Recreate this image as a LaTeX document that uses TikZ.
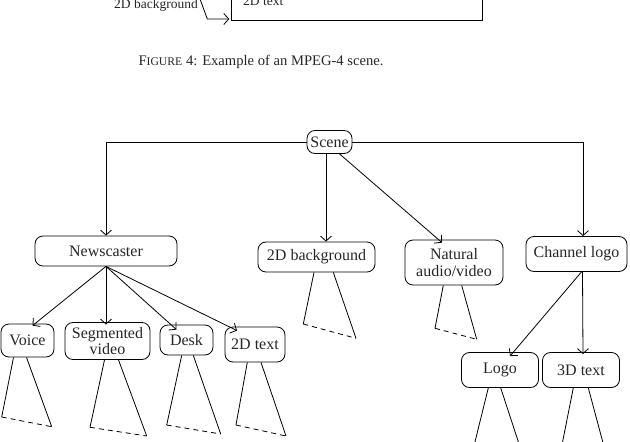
\documentclass[tikz,border=0pt]{standalone}
\usepackage{fontspec}
\setmainfont{Liberation Serif}
\usetikzlibrary{arrows.meta,calc}
\tikzset{
  box/.style={draw, rounded corners=8pt, align=center, inner sep=0pt, line width=0.8pt,
    font=\fontsize{16}{16.5}\selectfont, text=black!85},
  arr/.style={line width=0.8pt, -{Straight Barb[length=5pt,width=11pt,line width=0.8pt]}},
  ln/.style={line width=0.8pt},
  dsh/.style={line width=0.8pt, dash pattern=on 5pt off 4pt},
  lbl/.style={font=\fontsize{13.5}{15}\selectfont, text=black!85, inner sep=0pt}
}
\begin{document}
\begin{tikzpicture}[x=1pt,y=-1pt]
\useasboundingbox (0,0) rectangle (630,442);
\clip (0,0) rectangle (630,442);

% fragment of previous figure
\node[lbl, anchor=base east] (bglab) at (198,8) {2D background};
\node[lbl, anchor=base west] (txtlab) at (243,5) {2D text};
\draw[line width=1pt] (231.7,-10) rectangle (482.7,20);
\coordinate (fa) at (200,-1);
\coordinate (fb) at (207.3,19);
\coordinate (fc) at (229.3,19);
\draw[arr] (fa) -- (fb) -- (fc);

% caption
\node[lbl, font=\fontsize{14.6}{16}\selectfont] (cap) at (261,62)
  {F{\fontsize{11.7}{14}\selectfont IGURE} 4: Example of an MPEG-4 scene.};

% nodes
\node[box, minimum width=45pt, minimum height=23pt] (scene) at (329.5,142) {Scene};
\node[box, minimum width=142pt, minimum height=30pt] (news) at (106,251) {Newscaster};
\node[box, minimum width=117pt, minimum height=30pt] (bg) at (316.5,257) {2D background};
\node[box, minimum width=98pt, minimum height=45pt] (nat) at (454,262.5) {Natural\\audio/video};
\node[box, minimum width=101pt, minimum height=35pt] (chan) at (576.5,254) {Channel logo};
\node[box, minimum width=53pt, minimum height=33pt] (voice) at (27.5,340.5) {Voice};
\node[box, minimum width=85pt, minimum height=37pt] (seg) at (107.5,341) {Segmented\\video};
\node[box, minimum width=53pt, minimum height=30pt] (desk) at (186.5,340) {Desk};
\node[box, minimum width=60pt, minimum height=35pt] (t2d) at (255,344.5) {2D text};
\node[box, minimum width=77pt, minimum height=35pt] (logo) at (500,370) {Logo};
\node[box, minimum width=77pt, minimum height=35pt] (t3d) at (581,370) {3D text};

% connectors
\draw[arr] (scene.west) -| (news.north);
\draw[arr] (scene.east) -| ([xshift=6.5pt]chan.north);
\draw[arr] ([xshift=-3.5pt]scene.south) -- ([xshift=9.5pt]bg.north);
\draw[arr] ([xshift=10pt]scene.south) -- ([xshift=-12pt,yshift=-3pt]nat.north);

\draw[arr] (news.south) -- ([xshift=5pt,yshift=-2pt]voice.north);
\draw[arr] (news.south) -- ([xshift=-1.5pt,yshift=-2.5pt]seg.north);
\draw[arr] (news.south) -- ([xshift=-10pt,yshift=-5pt]desk.north);
\draw[arr] (news.south) -- ([xshift=-18pt,yshift=-4pt]t2d.north);

\draw[arr] ([xshift=5pt]chan.south) -- ([xshift=10pt,yshift=-4pt]logo.north);
\draw[arr] ([xshift=6pt]chan.south) -- ([xshift=2pt,yshift=-2pt]t3d.north);

% subtrees
\coordinate (voiceL) at (1.7,417);   \coordinate (voiceR) at (51.7,426.7);
\draw[ln] ([xshift=-14pt]voice.south) -- (voiceL);
\draw[ln] ([xshift=-1pt]voice.south) -- (voiceR);
\draw[dsh] (voiceL) -- (voiceR);

\coordinate (segL) at (90,427.3);    \coordinate (segR) at (146.7,436);
\draw[ln] ([xshift=-3pt]seg.south) -- (segL);
\draw[ln] ([xshift=11pt]seg.south) -- (segR);
\draw[dsh] (segL) -- (segR);

\coordinate (deskL) at (166.7,425);  \coordinate (deskR) at (220.7,434);
\draw[ln] ([xshift=-4.8pt]desk.south) -- (deskL);
\draw[ln] ([xshift=6.8pt]desk.south) -- (deskR);
\draw[dsh] (deskL) -- (deskR);

\coordinate (t2dL) at (236,425);     \coordinate (t2dR) at (286,436);
\draw[ln] ([xshift=-7.7pt]t2d.south) -- (t2dL);
\draw[ln] ([xshift=6pt]t2d.south) -- (t2dR);
\draw[dsh] (t2dL) -- (t2dR);

\coordinate (bgL) at (303.3,324);    \coordinate (bgR) at (356,338.3);
\draw[ln] ([xshift=-2.5pt]bg.south) -- (bgL);
\draw[ln] ([xshift=16.8pt]bg.south) -- (bgR);
\draw[dsh] (bgL) -- (bgR);

\coordinate (natL) at (435,328.3);   \coordinate (natR) at (476.7,339.3);
\draw[ln] ([xshift=-10.7pt]nat.south) -- (natL);
\draw[ln] ([xshift=7.7pt]nat.south) -- (natR);
\draw[dsh] (natL) -- (natR);

\coordinate (logoL) at (470.5,460);  \coordinate (logoR) at (524.3,460);
\draw[ln] ([xshift=-11.7pt]logo.south) -- (logoL);
\draw[ln] ([xshift=0.7pt]logo.south) -- (logoR);

\coordinate (t3dL) at (559,460);     \coordinate (t3dR) at (607.6,460);
\draw[ln] ([xshift=-7.7pt]t3d.south) -- (t3dL);
\draw[ln] ([xshift=7.3pt]t3d.south) -- (t3dR);
\end{tikzpicture}
\end{document}
